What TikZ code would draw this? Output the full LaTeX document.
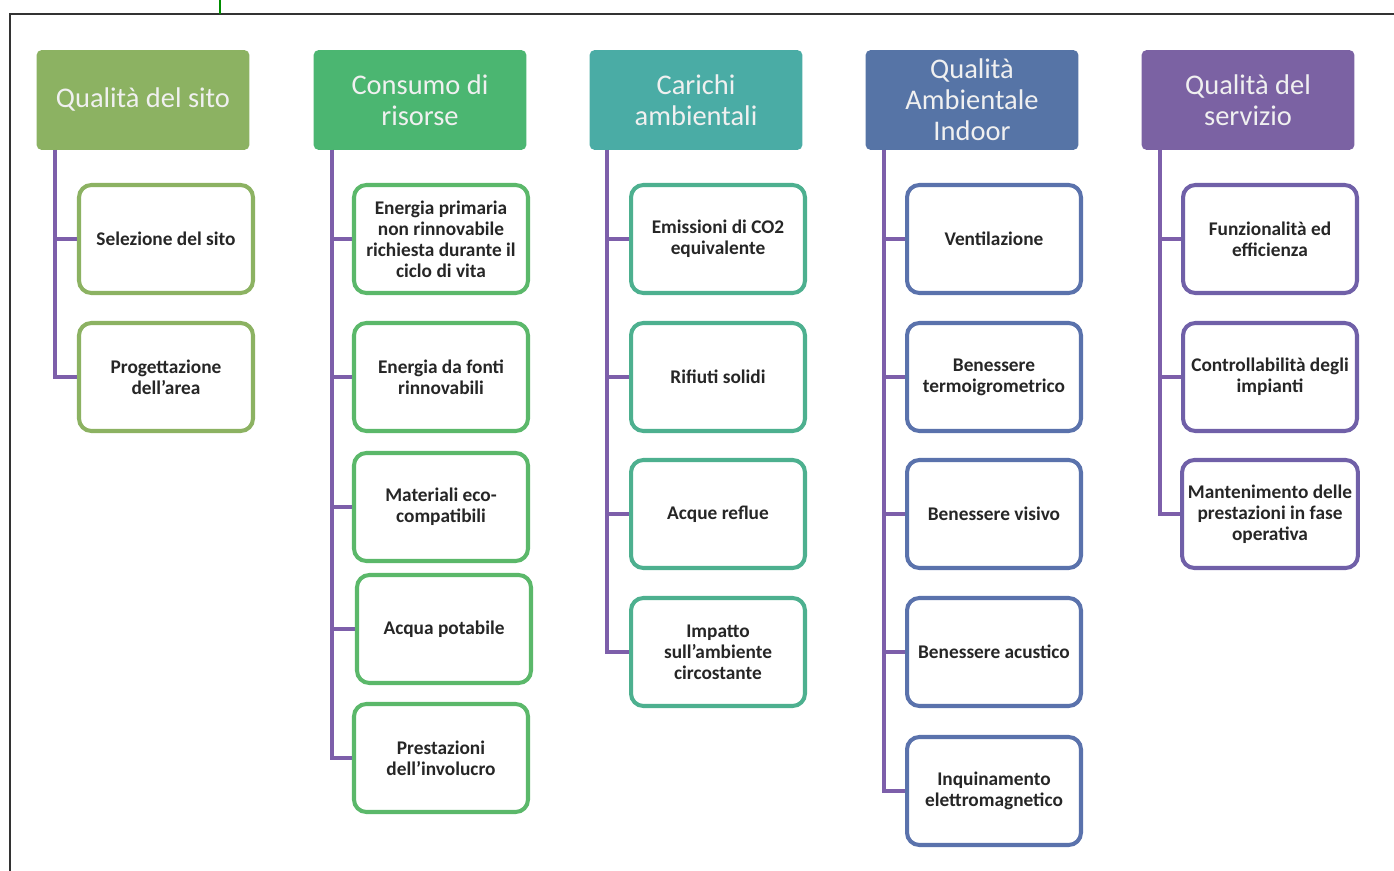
\documentclass[tikz,border=0pt]{standalone}
\usepackage{fontspec}
\setmainfont{Carlito}
\usepackage{tikz}

\definecolor{sitocol}{HTML}{8CB262}
\definecolor{risorsecol}{HTML}{4BB671}
\definecolor{risorsebrd}{HTML}{5BB86A}
\definecolor{carichicol}{HTML}{4AACA5}
\definecolor{carichibrd}{HTML}{4DB08F}
\definecolor{indoorcol}{HTML}{5674A6}
\definecolor{indoorbrd}{HTML}{5A72AC}
\definecolor{serviziocol}{HTML}{7B62A3}
\definecolor{serviziobrd}{HTML}{7060A8}
\definecolor{ramocol}{HTML}{7D5FAA}

\tikzset{
	head/.style={fill=#1,draw=none,rounded corners=3pt,minimum width=4.26cm,minimum height=2cm,
		align=center,text=white!94!black,font=\fontsize{16.2}{17.6}\selectfont},
	leaf/.style={draw=#1,fill=white,line width=2.3pt,rounded corners=7pt,minimum width=3.48cm,
		minimum height=2.16cm,align=center,text=black!85,font=\fontsize{11}{12}\selectfont\bfseries},
	branch/.style={draw=ramocol,line width=2.6pt}
}

\begin{document}
\begin{tikzpicture}[x=0.02cm,y=-0.02cm]
	\useasboundingbox (0,0) rectangle (1394,871);
	\draw[line width=0.8pt,black!80] (10,871) -- (10,14) -- (1394,14);
	\draw[line width=0.8pt,green!55!black] (220,0) -- (220,14);

	\node[head=sitocol] (h1) at (143,100) {Qualità del sito};
	\node[head=risorsecol] (h2) at (420,100) {Consumo di\\risorse};
	\node[head=carichicol] (h3) at (696,100) {Carichi\\ambientali};
	\node[head=indoorcol] (h4) at (972,100) {Qualità\\Ambientale\\Indoor};
	\node[head=serviziocol] (h5) at (1248,100) {Qualità del\\servizio};

	\node[leaf=sitocol] (c11) at (166,239) {Selezione del sito};
	\node[leaf=sitocol] (c12) at (166,377) {Progettazione\\dell'area};

	\node[leaf=risorsebrd] (c21) at (441,239) {Energia primaria\\non rinnovabile\\richiesta durante il\\ciclo di vita};
	\node[leaf=risorsebrd] (c22) at (441,377) {Energia da fonti\\rinnovabili};
	\node[leaf=risorsebrd] (c23) at (441,507) {Materiali eco-\\compatibili};
	\node[leaf=risorsebrd] (c24) at (444,629) {Acqua potabile};
	\node[leaf=risorsebrd] (c25) at (441,758) {Prestazioni\\dell'involucro};

	\node[leaf=carichibrd] (c31) at (718,239) {Emissioni di CO2\\equivalente};
	\node[leaf=carichibrd] (c32) at (718,377) {Rifiuti solidi};
	\node[leaf=carichibrd] (c33) at (718,514) {Acque reflue};
	\node[leaf=carichibrd] (c34) at (718,652) {Impatto\\sull'ambiente\\circostante};

	\node[leaf=indoorbrd] (c41) at (994,239) {Ventilazione};
	\node[leaf=indoorbrd] (c42) at (994,377) {Benessere\\termoigrometrico};
	\node[leaf=indoorbrd] (c43) at (994,514) {Benessere visivo};
	\node[leaf=indoorbrd] (c44) at (994,652) {Benessere acustico};
	\node[leaf=indoorbrd] (c45) at (994,791) {Inquinamento\\elettromagnetico};

	\node[leaf=serviziobrd] (c51) at (1270,239) {Funzionalità ed\\efficienza};
	\node[leaf=serviziobrd] (c52) at (1270,377) {Controllabilità degli\\impianti};
	\node[leaf=serviziobrd] (c53) at (1270,514) {Mantenimento delle\\prestazioni in fase\\operativa};

	\coordinate (t1) at (55,150);
	\coordinate (t2) at (332,150);
	\coordinate (t3) at (607,150);
	\coordinate (t4) at (884,150);
	\coordinate (t5) at (1160,150);

	\draw[branch] (t1) |- (c12.west);
	\draw[branch] (t1) |- (c11.west);

	\draw[branch] (t2) |- (c25.west);
	\draw[branch] (t2) |- (c21.west);
	\draw[branch] (t2) |- (c22.west);
	\draw[branch] (t2) |- (c23.west);
	\draw[branch] (t2) |- (c24.west);

	\draw[branch] (t3) |- (c34.west);
	\draw[branch] (t3) |- (c31.west);
	\draw[branch] (t3) |- (c32.west);
	\draw[branch] (t3) |- (c33.west);

	\draw[branch] (t4) |- (c45.west);
	\draw[branch] (t4) |- (c41.west);
	\draw[branch] (t4) |- (c42.west);
	\draw[branch] (t4) |- (c43.west);
	\draw[branch] (t4) |- (c44.west);

	\draw[branch] (t5) |- (c53.west);
	\draw[branch] (t5) |- (c51.west);
	\draw[branch] (t5) |- (c52.west);
\end{tikzpicture}
\end{document}
